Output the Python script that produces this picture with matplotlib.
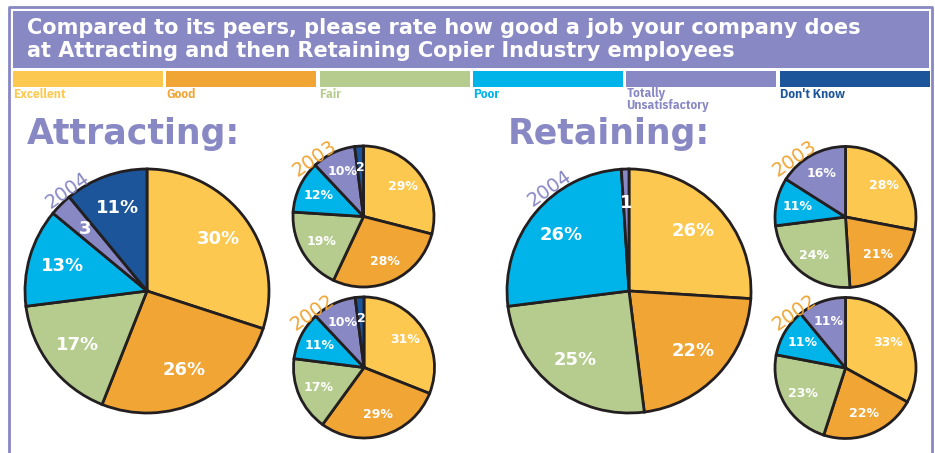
import matplotlib
matplotlib.use('Agg')
import matplotlib.pyplot as plt
from matplotlib.patches import Rectangle
from matplotlib.lines import Line2D

W, H = 935, 453

# категории и цвета легенды
categories = ['Excellent', 'Good', 'Fair', 'Poor', 'Totally\nUnsatisfactory', "Don't Know"]
colors = ['#FDC84F', '#F0A535', '#B6CC8E', '#00B4EA', '#8888C4', '#1C5599']

# данные (в процентах)
attract_2004 = [30, 26, 17, 13, 3, 11]
attract_2003 = [29, 28, 19, 12, 10, 2]
attract_2002 = [31, 29, 17, 11, 10, 2]
retain_2004 = [26, 22, 25, 26, 1]
retain_2003 = [28, 21, 24, 11, 16]
retain_2002 = [33, 22, 23, 11, 11]

title = ['Compared to its peers, please rate how good a job your company does',
         'at Attracting and then Retaining Copier Industry employees']

lav = '#8888C4'
orange = '#F0A535'
narrow = ['IBM Plex Sans Condensed', 'DejaVu Sans']

fig = plt.figure(figsize=(W / 100, H / 100), dpi=100)
ax = fig.add_axes([0, 0, 1, 1])


def Y(py):
    # пиксель сверху -> координата снизу
    return H - py


def draw_pie(vals, cx, cy, r, fs, ld):
    labels = [f'{v}%' if v >= 10 else str(v) for v in vals]
    wedges, texts = ax.pie(vals, colors=colors[:len(vals)], startangle=90,
                           counterclock=False, center=(cx, Y(cy)), radius=r,
                           labels=labels, labeldistance=ld, frame=True,
                           wedgeprops=dict(edgecolor='#231F20', linewidth=2),
                           textprops=dict(color='white', fontsize=fs,
                                          fontweight='bold'))
    for t in texts:
        t.set_ha('center')
        t.set_va('center')


# рамка
ax.add_line(Line2D([9, 9, 932, 932], [0, Y(7), Y(7), 0], color=lav, lw=2))

# шапка
ax.add_patch(Rectangle((13, Y(68)), 916, 57, color=lav, lw=0))
ax.text(27, Y(34), title[0], color='white', fontsize=15, fontweight='bold', va='baseline')
ax.text(27, Y(57), title[1], color='white', fontsize=15, fontweight='bold', va='baseline')

# легенда
for i, (cat, col) in enumerate(zip(categories, colors)):
    x0 = 13 + i * 153.3
    ax.add_patch(Rectangle((x0, Y(87)), 150, 16, color=col, lw=0))
    ax.text(x0, Y(87.5), cat, color=col, fontsize=9.5, fontweight='bold',
            family=narrow, va='top', ha='left', linespacing=0.9)

ax.text(27, Y(144), 'Attracting:', color=lav, fontsize=25, fontweight='bold', va='baseline')
ax.text(508, Y(144), 'Retaining:', color=lav, fontsize=25, fontweight='bold', va='baseline')

draw_pie(attract_2004, 147, 291, 122, 13, 0.72)
draw_pie(attract_2003, 363.5, 216.5, 70.5, 9, 0.7)
draw_pie(attract_2002, 364, 367.5, 70.5, 9, 0.7)
draw_pie(retain_2004, 629, 291, 122, 13, 0.72)
draw_pie(retain_2003, 845.5, 217, 70.5, 9, 0.7)
draw_pie(retain_2002, 845.5, 368, 70.5, 9, 0.7)

# подписи годов
ax.text(68, Y(190), '2004', color=lav, fontsize=14, rotation=35, ha='center', va='center')
ax.text(315, Y(158), '2003', color=orange, fontsize=14, rotation=35, ha='center', va='center')
ax.text(313, Y(312), '2002', color=orange, fontsize=14, rotation=35, ha='center', va='center')
ax.text(550, Y(188), '2004', color=lav, fontsize=14, rotation=35, ha='center', va='center')
ax.text(795, Y(158), '2003', color=orange, fontsize=14, rotation=35, ha='center', va='center')
ax.text(795, Y(312), '2002', color=orange, fontsize=14, rotation=35, ha='center', va='center')

ax.set_xlim(0, W)
ax.set_ylim(0, H)
ax.set_aspect('equal')
ax.axis('off')

fig.savefig('out.png', dpi=100)
